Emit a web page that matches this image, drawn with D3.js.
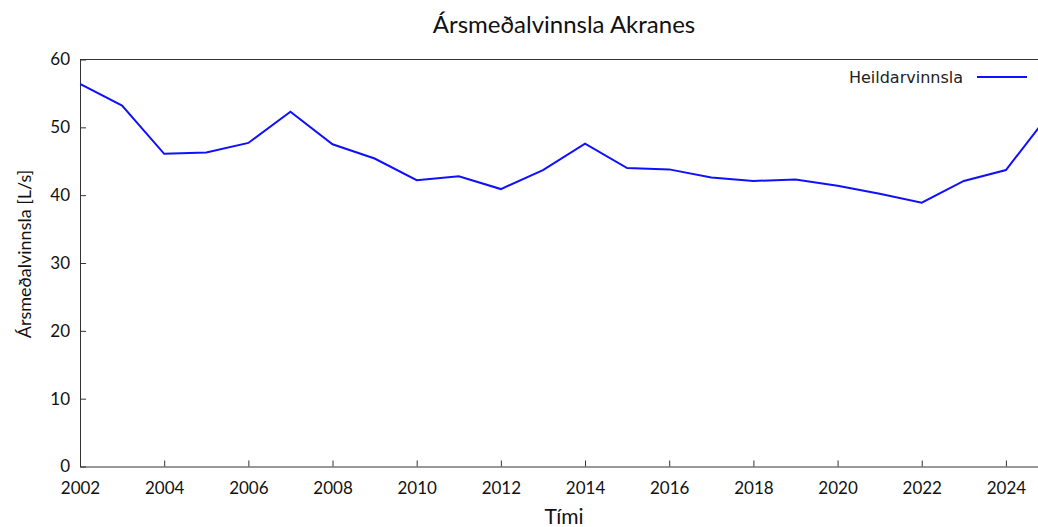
<!DOCTYPE html>
<html lang="is">
<head>
    <meta charset="UTF-8">
    <title>Ársmeðalvinnsla Akranes</title>
    <script src="https://d3js.org/d3.v7.min.js"></script>
    <style>
        body { margin: 0; background: #fff; }
    </style>
</head>
<body>
    <div id="chart"></div>

    <script>
        // Ár og ársmeðalvinnsla (L/s)
        var years = [2002, 2003, 2004, 2005, 2006, 2007, 2008, 2009, 2010, 2011, 2012, 2013,
                     2014, 2015, 2016, 2017, 2018, 2019, 2020, 2021, 2022, 2023, 2024, 2025];
        var heildarvinnsla = [56.4, 53.2, 46.1, 46.3, 47.7, 52.3, 47.5, 45.4, 42.2, 42.8, 40.9, 43.7,
                              47.6, 44.0, 43.8, 42.6, 42.1, 42.3, 41.4, 40.2, 38.9, 42.1, 43.7, 51.7];
        var xTicks = [2002, 2004, 2006, 2008, 2010, 2012, 2014, 2016, 2018, 2020, 2022, 2024];
        var yTicks = [0, 10, 20, 30, 40, 50, 60];

        var width = 1038;
        var height = 527;
        var mLeft = 80, mRight = 1048, mTop = 59.5, mBottom = 466.5;
        var labelFont = "Lato, 'Open Sans', sans-serif";

        var svg = d3.select("#chart")
                    .append("svg")
                    .attr("width", width)
                    .attr("height", height);

        var xScale = d3.scaleLinear()
                       .domain([2002, 2025])
                       .range([mLeft, mRight]);

        var yScale = d3.scaleLinear()
                       .domain([0, 60])
                       .range([mBottom, mTop]);

        svg.append("defs").append("clipPath")
           .attr("id", "clip")
           .append("rect")
           .attr("x", mLeft).attr("y", mTop)
           .attr("width", mRight - mLeft).attr("height", mBottom - mTop);

        // ramminn ofan
        svg.append("line")
           .attr("x1", mLeft).attr("x2", mRight)
           .attr("y1", mTop).attr("y2", mTop)
           .attr("stroke", "#333").attr("stroke-width", 1);

        var xAxis = svg.append("g")
           .attr("transform", "translate(0," + mBottom + ")")
           .call(d3.axisBottom(xScale).tickValues(xTicks).tickFormat(d3.format("d")).tickSizeInner(-6).tickSizeOuter(0).tickPadding(15));

        var yAxis = svg.append("g")
           .attr("transform", "translate(" + mLeft + ",0)")
           .call(d3.axisLeft(yScale).tickValues(yTicks).tickSizeInner(-6).tickSizeOuter(0).tickPadding(10));

        [xAxis, yAxis].forEach(function(a) {
            a.select(".domain").attr("stroke", "#333");
            a.selectAll(".tick line").attr("stroke", "#333");
            a.selectAll(".tick text")
             .style("font-size", "17px")
             .style("font-family", labelFont)
             .attr("fill", "#111");
        });

        var line = d3.line()
                     .x(function(d, i) { return xScale(years[i]); })
                     .y(function(d) { return yScale(d); });

        svg.append("path")
           .datum(heildarvinnsla)
           .attr("clip-path", "url(#clip)")
           .attr("d", line)
           .attr("fill", "none")
           .attr("stroke", "#1010ff")
           .attr("stroke-width", 2);

        // titill og ásatitlar
        svg.append("text")
           .attr("x", (mLeft + mRight) / 2)
           .attr("y", 33)
           .attr("text-anchor", "middle")
           .style("font-family", labelFont)
           .style("font-size", "24px")
           .attr("fill", "#111")
           .text("Ársmeðalvinnsla Akranes");

        svg.append("text")
           .attr("x", (mLeft + mRight) / 2)
           .attr("y", 524)
           .attr("text-anchor", "middle")
           .style("font-family", labelFont)
           .style("font-size", "21px")
           .attr("fill", "#111")
           .text("Tími");

        svg.append("text")
           .attr("transform", "translate(31,254) rotate(-90)")
           .attr("text-anchor", "middle")
           .style("font-family", labelFont)
           .style("font-size", "18px")
           .attr("fill", "#111")
           .text("Ársmeðalvinnsla [L/s]");

        // skýringar
        var legend = svg.append("g").attr("transform", "translate(0,77)");
        legend.append("text")
              .attr("x", 963)
              .attr("y", 0)
              .attr("dy", "0.35em")
              .attr("text-anchor", "end")
              .style("font-family", "'DejaVu Sans', sans-serif")
              .style("font-size", "16px")
              .attr("fill", "#222")
              .text("Heildarvinnsla");
        legend.append("line")
              .attr("x1", 977).attr("x2", 1027)
              .attr("y1", 0).attr("y2", 0)
              .attr("stroke", "#1010ff")
              .attr("stroke-width", 2);
    </script>
</body>
</html>
